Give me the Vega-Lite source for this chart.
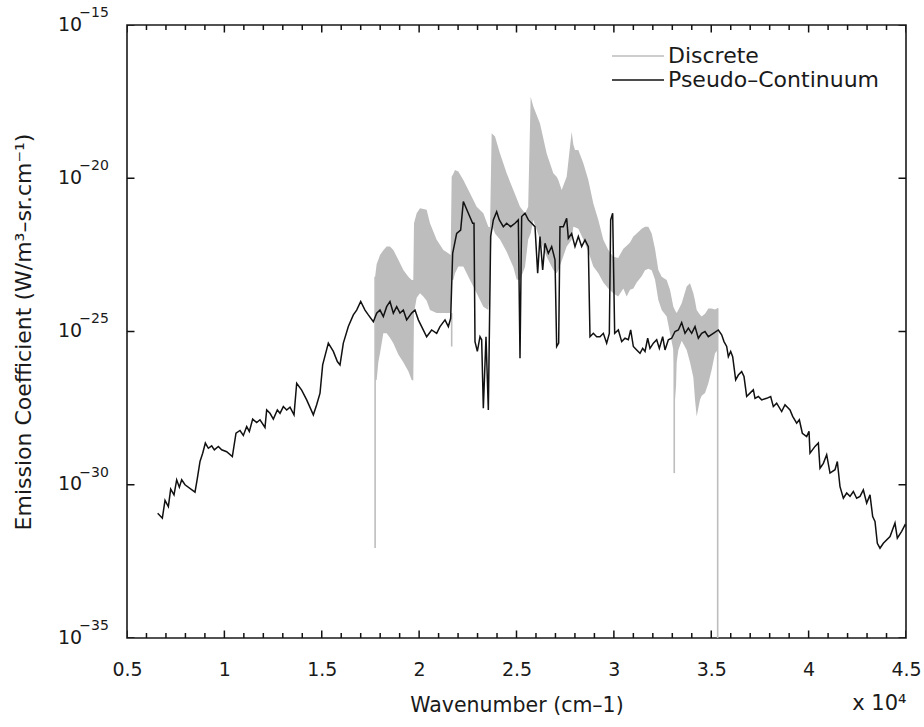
{
 "$schema": "https://vega.github.io/schema/vega-lite/v6.json",
 "width": 779,
 "height": 613,
 "autosize": {"type": "none"},
 "padding": {"left": 127, "top": 25, "right": 18, "bottom": 89},
 "background": "white",
 "config": {
  "view": {"stroke": "#1a1a1a", "strokeWidth": 1.6},
  "font": "DejaVu Sans",
  "axis": {"domain": false, "ticks": false, "grid": false, "labelFont": "DejaVu Sans", "titleFont": "DejaVu Sans", "labelColor": "#1a1a1a", "titleColor": "#1a1a1a", "labelFontSize": 19, "titleFontSize": 20.5, "titleFontWeight": "normal", "labelOverlap": false, "labelBound": false, "labelFlush": false}
 },
 "datasets": {
  "xticks": [
   {"t":5000,"kind":"major"},{"t":6000,"kind":"minor"},{"t":7000,"kind":"minor"},{"t":8000,"kind":"minor"},{"t":9000,"kind":"minor"},{"t":10000,"kind":"major"},{"t":11000,"kind":"minor"},{"t":12000,"kind":"minor"},{"t":13000,"kind":"minor"},{"t":14000,"kind":"minor"},{"t":15000,"kind":"major"},{"t":16000,"kind":"minor"},{"t":17000,"kind":"minor"},{"t":18000,"kind":"minor"},{"t":19000,"kind":"minor"},{"t":20000,"kind":"major"},{"t":21000,"kind":"minor"},{"t":22000,"kind":"minor"},{"t":23000,"kind":"minor"},{"t":24000,"kind":"minor"},{"t":25000,"kind":"major"},{"t":26000,"kind":"minor"},{"t":27000,"kind":"minor"},{"t":28000,"kind":"minor"},{"t":29000,"kind":"minor"},{"t":30000,"kind":"major"},{"t":31000,"kind":"minor"},{"t":32000,"kind":"minor"},{"t":33000,"kind":"minor"},{"t":34000,"kind":"minor"},{"t":35000,"kind":"major"},{"t":36000,"kind":"minor"},{"t":37000,"kind":"minor"},{"t":38000,"kind":"minor"},{"t":39000,"kind":"minor"},{"t":40000,"kind":"major"},{"t":41000,"kind":"minor"},{"t":42000,"kind":"minor"},{"t":43000,"kind":"minor"},{"t":44000,"kind":"minor"},{"t":45000,"kind":"major"}
  ],
  "yticks": [
   {"t":1e-35,"kind":"major"},{"t":1e-30,"kind":"major"},{"t":1e-25,"kind":"major"},{"t":1e-20,"kind":"major"},{"t":1e-15,"kind":"major"}
  ],
  "discrete": [
   {"w":17740,"hi":6.17e-24,"lo":2.63e-27},{"w":17820,"hi":1.58e-23,"lo":2.63e-27},{"w":17905,"hi":2.19e-23,"lo":1.0e-26},{"w":17991,"hi":3.16e-23,"lo":1.95e-26},{"w":18162,"hi":4.47e-23,"lo":8.71e-26},{"w":18333,"hi":5.89e-23,"lo":8.71e-26},{"w":18504,"hi":5.89e-23,"lo":6.31e-26},{"w":18676,"hi":4.57e-23,"lo":4.17e-26},{"w":18932,"hi":2.19e-23,"lo":1.78e-26},{"w":19189,"hi":1.02e-23,"lo":1.0e-26},{"w":19446,"hi":6.17e-24,"lo":5.01e-27},{"w":19617,"hi":4.79e-24,"lo":2.63e-27},{"w":19700,"hi":4.79e-24,"lo":2.51e-27},{"w":19737,"hi":3.39e-22,"lo":3.98e-25},{"w":19874,"hi":7.24e-22,"lo":1.26e-24},{"w":20045,"hi":1.05e-21,"lo":1.78e-24},{"w":20216,"hi":1.0e-21,"lo":1.38e-24},{"w":20387,"hi":9.33e-22,"lo":1.0e-24},{"w":20558,"hi":3.39e-22,"lo":5.01e-25},{"w":20901,"hi":9.77e-23,"lo":3.98e-25},{"w":21243,"hi":4.57e-23,"lo":3.98e-25},{"w":21500,"hi":3.55e-23,"lo":3.98e-25},{"w":21620,"hi":3.16e-23,"lo":3.98e-25},{"w":21671,"hi":1.12e-20,"lo":4.79e-24},{"w":21756,"hi":1.41e-20,"lo":4.79e-24},{"w":21842,"hi":1.86e-20,"lo":7.94e-24},{"w":22013,"hi":1.66e-20,"lo":1.32e-23},{"w":22270,"hi":8.71e-21,"lo":1.32e-23},{"w":22612,"hi":3.24e-21,"lo":4.79e-24},{"w":22955,"hi":1.17e-21,"lo":1.78e-24},{"w":23297,"hi":7.24e-22,"lo":6.46e-25},{"w":23554,"hi":2.63e-22,"lo":5.01e-25},{"w":23640,"hi":2.51e-22,"lo":1.78e-24},{"w":23725,"hi":2.95e-19,"lo":3.16e-22},{"w":23896,"hi":2.29e-19,"lo":1.58e-22},{"w":24153,"hi":6.46e-20,"lo":1.0e-22},{"w":24495,"hi":1.45e-20,"lo":3.98e-23},{"w":24837,"hi":4.17e-21,"lo":1.26e-23},{"w":25008,"hi":2.24e-21,"lo":5.01e-24},{"w":25180,"hi":1.17e-21,"lo":4.79e-24},{"w":25436,"hi":7.24e-22,"lo":1.26e-23},{"w":25600,"hi":1.17e-21,"lo":1.0e-22},{"w":25727,"hi":4.57e-18,"lo":1.58e-22},{"w":25864,"hi":2.19e-18,"lo":4.37e-22},{"w":26207,"hi":6.17e-19,"lo":9.77e-23},{"w":26549,"hi":6.46e-20,"lo":2.75e-23},{"w":26891,"hi":1.45e-20,"lo":1.02e-23},{"w":27062,"hi":1.12e-20,"lo":7.94e-24},{"w":27148,"hi":8.71e-21,"lo":1.0e-23},{"w":27319,"hi":4.17e-21,"lo":2.0e-23},{"w":27576,"hi":1.12e-20,"lo":5.89e-23},{"w":27832,"hi":3.31e-19,"lo":9.77e-23},{"w":27918,"hi":1.26e-19,"lo":2.63e-22},{"w":28004,"hi":8.32e-20,"lo":2.51e-22},{"w":28175,"hi":8.32e-20,"lo":2.24e-22},{"w":28432,"hi":3.09e-20,"lo":1.0e-22},{"w":28688,"hi":8.71e-21,"lo":3.98e-23},{"w":28945,"hi":1.51e-21,"lo":1.32e-23},{"w":29202,"hi":4.37e-22,"lo":7.94e-24},{"w":29459,"hi":9.77e-23,"lo":3.98e-24},{"w":29715,"hi":4.57e-23,"lo":2.51e-24},{"w":29972,"hi":2.75e-23,"lo":1.78e-24},{"w":30220,"hi":2.51e-23,"lo":1.38e-24},{"w":30486,"hi":5.01e-23,"lo":2.51e-24},{"w":30657,"hi":6.31e-23,"lo":1.38e-24},{"w":30829,"hi":7.94e-23,"lo":2.29e-24},{"w":31000,"hi":1.26e-22,"lo":2.51e-24},{"w":31171,"hi":1.58e-22,"lo":3.98e-24},{"w":31428,"hi":2.24e-22,"lo":6.31e-24},{"w":31599,"hi":2.63e-22,"lo":1.0e-23},{"w":31770,"hi":2.63e-22,"lo":1.12e-23},{"w":31941,"hi":1.58e-22,"lo":1.0e-23},{"w":32112,"hi":5.01e-23,"lo":5.01e-24},{"w":32283,"hi":1.02e-23,"lo":1.07e-24},{"w":32455,"hi":6.17e-24,"lo":5.01e-25},{"w":32711,"hi":4.79e-24,"lo":3.09e-25},{"w":32882,"hi":2.29e-24,"lo":8.71e-26},{"w":33054,"hi":6.46e-25,"lo":2.51e-26},{"w":33173,"hi":4.47e-25,"lo":5.89e-28},{"w":33225,"hi":3.98e-25,"lo":1.0e-26},{"w":33310,"hi":5.01e-25,"lo":2.51e-26},{"w":33482,"hi":8.32e-25,"lo":5.01e-26},{"w":33738,"hi":2.95e-24,"lo":2.51e-26},{"w":33909,"hi":3.72e-24,"lo":1.0e-26},{"w":34081,"hi":1.78e-24,"lo":3.16e-27},{"w":34166,"hi":1.0e-24,"lo":5.89e-28},{"w":34252,"hi":5.01e-25,"lo":1.70e-28},{"w":34423,"hi":3.55e-25,"lo":5.89e-28},{"w":34508,"hi":3.09e-25,"lo":7.94e-28},{"w":34680,"hi":3.80e-25,"lo":9.77e-28},{"w":34851,"hi":5.62e-25,"lo":2.04e-27},{"w":35022,"hi":5.62e-25,"lo":5.62e-27},{"w":35193,"hi":5.25e-25,"lo":1.95e-26},{"w":35330,"hi":5.75e-25,"lo":2.51e-26}
  ],
  "spikesLow": [
   {"w":17740,"hi":6.17e-24,"lo":8.71e-33},{"w":21671,"hi":3.98e-25,"lo":3.24e-26}
  ],
  "spikesHigh": [
   {"w":33100,"hi":4.5e-25,"lo":2.4e-30},{"w":35330,"hi":5.75e-25,"lo":1e-35}
  ],
  "continuum": [
   {"w":6575,"v":1.17e-31},{"w":6815,"v":8.13e-32},{"w":6952,"v":3.09e-31},{"w":7123,"v":1.95e-31},{"w":7243,"v":7.24e-31},{"w":7414,"v":4.68e-31},{"w":7551,"v":1.45e-30},{"w":7688,"v":8.32e-31},{"w":7808,"v":1.45e-30},{"w":7979,"v":1.0e-30},{"w":8492,"v":5.75e-31},{"w":8612,"v":1.62e-30},{"w":8749,"v":5.75e-30},{"w":8886,"v":1.07e-29},{"w":9023,"v":2.29e-29},{"w":9177,"v":1.55e-29},{"w":9348,"v":1.86e-29},{"w":9485,"v":1.38e-29},{"w":9690,"v":1.78e-29},{"w":9861,"v":1.38e-29},{"w":10118,"v":1.2e-29},{"w":10409,"v":8.32e-30},{"w":10597,"v":4.79e-29},{"w":10803,"v":5.89e-29},{"w":10974,"v":4.07e-29},{"w":11145,"v":7.94e-29},{"w":11282,"v":5.5e-29},{"w":11453,"v":1.38e-28},{"w":11659,"v":1.07e-28},{"w":11830,"v":1.32e-28},{"w":12086,"v":7.41e-29},{"w":12172,"v":2.75e-28},{"w":12343,"v":2.14e-28},{"w":12514,"v":1.38e-28},{"w":12720,"v":2.75e-28},{"w":12857,"v":2.14e-28},{"w":13028,"v":3.55e-28},{"w":13199,"v":2.75e-28},{"w":13370,"v":3.39e-28},{"w":13576,"v":1.91e-28},{"w":13713,"v":2.04e-27},{"w":13969,"v":1.23e-27},{"w":14226,"v":5.89e-28},{"w":14568,"v":1.91e-28},{"w":14739,"v":4.07e-28},{"w":14911,"v":9.77e-28},{"w":15047,"v":8.13e-27},{"w":15338,"v":4.17e-26},{"w":15595,"v":2.24e-26},{"w":15801,"v":1.05e-26},{"w":15937,"v":8.13e-27},
   {"w":16108,"v":4.17e-26},{"w":16365,"v":1.45e-25},{"w":16622,"v":3.47e-25},{"w":16793,"v":5.01e-25},{"w":17000,"v":9.55e-25},{"w":17221,"v":5.01e-25},{"w":17392,"v":3.47e-25},{"w":17649,"v":2.09e-25},{"w":17820,"v":3.98e-25},{"w":17991,"v":5.01e-25},{"w":18162,"v":3.09e-25},{"w":18333,"v":6.46e-25},{"w":18504,"v":9.55e-25},{"w":18676,"v":3.98e-25},{"w":18847,"v":6.46e-25},{"w":19018,"v":3.98e-25},{"w":19189,"v":5.01e-25},{"w":19360,"v":2.4e-25},{"w":19617,"v":3.98e-25},{"w":19788,"v":5.01e-25},{"w":19959,"v":2.4e-25},{"w":20130,"v":1.45e-25},{"w":20387,"v":6.76e-26},{"w":20644,"v":1.12e-25},{"w":20901,"v":8.71e-26},{"w":21072,"v":1.45e-25},{"w":21329,"v":2.4e-25},{"w":21500,"v":1.45e-25},{"w":21620,"v":2.69e-25},{"w":21722,"v":3.55e-23},{"w":21928,"v":1.58e-22},{"w":22133,"v":2.04e-22},{"w":22270,"v":1.74e-21},{"w":22527,"v":7.24e-22},{"w":22749,"v":3.39e-22},{"w":22818,"v":3.39e-22},{"w":22869,"v":4.68e-26},{"w":22989,"v":2.24e-26},{"w":23126,"v":6.76e-26},{"w":23211,"v":5.37e-26},{"w":23297,"v":3.16e-28},{"w":23434,"v":6.76e-26},{"w":23554,"v":2.75e-28},{"w":23673,"v":1.26e-22},{"w":23810,"v":4.37e-22},{"w":23981,"v":8.13e-22},{"w":24118,"v":4.37e-22},{"w":24324,"v":2.63e-22},{"w":24495,"v":3.39e-22},{"w":24700,"v":2.63e-22},{"w":24923,"v":3.39e-22},{"w":25094,"v":4.37e-22},{"w":25180,"v":1.35e-26},{"w":25265,"v":5.62e-22},{"w":25436,"v":7.24e-22},{"w":25608,"v":4.37e-22},{"w":25779,"v":3.39e-22},{"w":25950,"v":2.63e-22},{"w":26087,"v":7.94e-24},{"w":26207,"v":1.26e-22},{"w":26344,"v":1.02e-23},{"w":26463,"v":7.59e-23},{"w":26634,"v":3.55e-23},{"w":26806,"v":5.89e-23},{"w":26977,"v":2.19e-23},{"w":27062,"v":3.24e-26},{"w":27165,"v":4.17e-26},{"w":27233,"v":2.63e-22},{"w":27404,"v":2.63e-22},{"w":27576,"v":4.9e-22},{"w":27661,"v":1.1e-22},{"w":27832,"v":1.58e-22},{"w":28004,"v":5.89e-23},{"w":28175,"v":1.26e-22},{"w":28346,"v":5.89e-23},{"w":28517,"v":9.77e-23},{"w":28688,"v":5.89e-23},{"w":28774,"v":6.76e-26},{"w":28945,"v":8.71e-26},{"w":29116,"v":6.76e-26},{"w":29287,"v":6.76e-26},{"w":29459,"v":8.71e-26},{"w":29630,"v":4.17e-26},{"w":29767,"v":8.71e-26},{"w":29835,"v":4.37e-22},{"w":29938,"v":7.24e-22},{"w":30041,"v":8.71e-26},
   {"w":30229,"v":1.12e-25},{"w":30401,"v":4.68e-26},{"w":30572,"v":6.03e-26},{"w":30743,"v":5.37e-26},{"w":30863,"v":1.12e-25},{"w":31000,"v":3.24e-26},{"w":31171,"v":2.51e-26},{"w":31342,"v":1.95e-26},{"w":31479,"v":2.82e-26},{"w":31599,"v":2.24e-26},{"w":31736,"v":6.03e-26},{"w":31855,"v":2.82e-26},{"w":32027,"v":4.17e-26},{"w":32198,"v":5.37e-26},{"w":32335,"v":2.82e-26},{"w":32506,"v":6.76e-26},{"w":32626,"v":2.51e-26},{"w":32797,"v":5.37e-26},{"w":32968,"v":6.03e-26},{"w":33139,"v":1.0e-25},{"w":33310,"v":1.12e-25},{"w":33481,"v":1.95e-25},{"w":33653,"v":8.71e-26},{"w":33824,"v":1.29e-25},{"w":33995,"v":8.71e-26},{"w":34166,"v":1.45e-25},{"w":34337,"v":6.03e-26},{"w":34508,"v":8.71e-26},{"w":34679,"v":1.0e-25},{"w":34850,"v":6.76e-26},{"w":35107,"v":8.71e-26},{"w":35364,"v":1.12e-25},{"w":35535,"v":7.76e-26},{"w":35655,"v":4.68e-26},{"w":35792,"v":3.24e-26},{"w":35878,"v":1.51e-26},{"w":35998,"v":2.24e-26},{"w":36100,"v":1.51e-26},{"w":36254,"v":2.63e-27},{"w":36391,"v":3.8e-27},{"w":36562,"v":4.9e-27},{"w":36682,"v":3.39e-27},{"w":36819,"v":7.59e-28},{"w":36990,"v":9.77e-28},{"w":37161,"v":1.26e-27},{"w":37247,"v":6.61e-28},{"w":37418,"v":7.59e-28},{"w":37589,"v":5.89e-28},{"w":37846,"v":6.61e-28},{"w":38051,"v":7.59e-28},{"w":38188,"v":3.55e-28},{"w":38359,"v":4.57e-28},{"w":38616,"v":2.45e-28},{"w":38787,"v":4.07e-28},{"w":39044,"v":2.75e-28},{"w":39181,"v":1.7e-28},{"w":39386,"v":1.02e-28},{"w":39523,"v":1.32e-28},{"w":39677,"v":4.79e-29},{"w":39900,"v":3.72e-29},{"w":40020,"v":5.5e-29},{"w":40071,"v":1.07e-29},{"w":40328,"v":1.78e-29},{"w":40499,"v":2.29e-29},{"w":40584,"v":3.47e-30},{"w":40756,"v":5.01e-30},{"w":40927,"v":9.55e-30},{"w":41098,"v":2.4e-30},{"w":41355,"v":3.09e-30},{"w":41474,"v":5.75e-30},{"w":41611,"v":8.71e-31},{"w":41783,"v":3.63e-31},{"w":41954,"v":5.37e-31},{"w":42125,"v":4.17e-31},{"w":42296,"v":6.03e-31},{"w":42467,"v":3.63e-31},{"w":42638,"v":4.17e-31},{"w":42809,"v":6.76e-31},{"w":42981,"v":2.51e-31},{"w":43152,"v":4.68e-31},{"w":43289,"v":9.12e-32},{"w":43408,"v":6.31e-32},{"w":43528,"v":1.23e-32},{"w":43665,"v":8.51e-33},{"w":43836,"v":1.23e-32},{"w":44180,"v":2.04e-32},{"w":44435,"v":5.62e-32},{"w":44555,"v":1.82e-32},{"w":44777,"v":3.02e-32},{"w":44949,"v":4.9e-32},{"w":45000,"v":4.5e-32}
  ]
 },
 "resolve": {"axis": {"x": "independent", "y": "independent"}},
 "layer": [
  {
   "data": {"name": "discrete"},
   "mark": {"type": "area", "color": "#bdbdbd", "clip": true},
   "encoding": {
    "x": {"field": "w", "type": "quantitative", "scale": {"domain": [5000, 45000], "nice": false, "zero": false},
     "axis": {"orient": "bottom", "values": [5000,10000,15000,20000,25000,30000,35000,40000,45000],
      "labelExpr": "'' + (datum.value / 10000)", "labelPadding": 22,
      "title": "Wavenumber (cm–1)", "titleX": 389.5, "titleY": 73, "titleAlign": "center", "titleBaseline": "alphabetic"}},
    "y": {"field": "hi", "type": "quantitative", "scale": {"type": "log", "domain": [1e-35, 1e-15], "nice": false},
     "axis": {"orient": "left", "values": [1e-35, 1e-30, 1e-25, 1e-20, 1e-15],
      "labelExpr": "'10'", "labelPadding": 45.3, "labelOffset": -1,
      "title": "Emission Coefficient (W/m³–sr.cm⁻¹)", "titleFontSize": 22, "titleX": -104, "titleY": 306.5, "titleAngle": 270, "titleAlign": "center", "titleBaseline": "middle"}},
    "y2": {"field": "lo"}
   }
  },
  {
   "data": {"name": "spikesLow"},
   "mark": {"type": "rule", "color": "#bdbdbd", "strokeWidth": 1.6, "clip": true},
   "encoding": {
    "x": {"field": "w", "type": "quantitative", "scale": {"domain": [5000, 45000], "nice": false, "zero": false},
     "axis": {"orient": "bottom", "values": [45000], "labels": false, "title": "x 10⁴", "titleFontSize": 21, "titleX": 779, "titleY": 71, "titleAlign": "right", "titleBaseline": "alphabetic"}},
    "y": {"field": "hi", "type": "quantitative", "scale": {"type": "log", "domain": [1e-35, 1e-15], "nice": false},
     "axis": {"orient": "left", "values": [1e-35, 1e-30, 1e-25, 1e-20, 1e-15], "labelExpr": "'−' + round(-log(datum.value) / LN10)", "labelFontSize": 14, "labelPadding": 18.7, "labelOffset": -12.6, "title": null}},
    "y2": {"field": "lo"}
   }
  },
  {
   "data": {"name": "spikesHigh"},
   "mark": {"type": "rule", "color": "#bdbdbd", "strokeWidth": 1.6, "clip": true},
   "encoding": {
    "x": {"field": "w", "type": "quantitative", "scale": {"domain": [5000, 45000], "nice": false, "zero": false}, "axis": null},
    "y": {"field": "hi", "type": "quantitative", "scale": {"type": "log", "domain": [1e-35, 1e-15], "nice": false}, "axis": null},
    "y2": {"field": "lo"}
   }
  },
  {
   "data": {"name": "continuum"},
   "mark": {"type": "line", "strokeWidth": 1.5, "clip": true},
   "encoding": {
    "x": {"field": "w", "type": "quantitative", "scale": {"domain": [5000, 45000], "nice": false, "zero": false}, "axis": null},
    "y": {"field": "v", "type": "quantitative", "scale": {"type": "log", "domain": [1e-35, 1e-15], "nice": false}, "axis": null},
    "color": {"datum": "Pseudo–Continuum", "type": "nominal",
     "scale": {"domain": ["Discrete", "Pseudo–Continuum"], "range": ["#bdbdbd", "#111111"]},
     "legend": {"orient": "none", "legendX": 500, "legendY": 20, "title": null, "symbolType": "M-4,0H4", "symbolSize": 169, "symbolStrokeWidth": 1.6, "labelFontSize": 22, "labelFont": "DejaVu Sans", "labelColor": "#1a1a1a", "labelOffset": 19, "labelLimit": 0, "rowPadding": 2, "padding": 0}}
   }
  },
  {
   "data": {"name": "xticks"},
   "mark": {"type": "tick", "orient": "vertical", "thickness": 1.5, "color": "#111111", "opacity": 1, "clip": true},
   "encoding": {
    "x": {"field": "t", "type": "quantitative", "scale": {"domain": [5000, 45000], "nice": false, "zero": false}, "axis": null},
    "y": {"datum": 1e-35, "type": "quantitative", "scale": {"type": "log", "domain": [1e-35, 1e-15], "nice": false}, "axis": null},
    "size": {"field": "kind", "type": "ordinal", "scale": {"domain": ["major", "minor"], "range": [15, 10]}, "legend": null}
   }
  },
  {
   "data": {"name": "xticks"},
   "mark": {"type": "tick", "orient": "vertical", "thickness": 1.5, "color": "#111111", "opacity": 1, "clip": true},
   "encoding": {
    "x": {"field": "t", "type": "quantitative", "scale": {"domain": [5000, 45000], "nice": false, "zero": false}, "axis": null},
    "y": {"datum": 1e-15, "type": "quantitative", "scale": {"type": "log", "domain": [1e-35, 1e-15], "nice": false}, "axis": null},
    "size": {"field": "kind", "type": "ordinal", "scale": {"domain": ["major", "minor"], "range": [15, 10]}, "legend": null}
   }
  },
  {
   "data": {"name": "yticks"},
   "mark": {"type": "tick", "orient": "horizontal", "thickness": 1.5, "color": "#111111", "opacity": 1, "clip": true},
   "encoding": {
    "y": {"field": "t", "type": "quantitative", "scale": {"type": "log", "domain": [1e-35, 1e-15], "nice": false}, "axis": null},
    "x": {"datum": 5000, "type": "quantitative", "scale": {"domain": [5000, 45000], "nice": false, "zero": false}, "axis": null},
    "size": {"field": "kind", "type": "ordinal", "scale": {"domain": ["major", "minor"], "range": [15, 10]}, "legend": null}
   }
  },
  {
   "data": {"name": "yticks"},
   "mark": {"type": "tick", "orient": "horizontal", "thickness": 1.5, "color": "#111111", "opacity": 1, "clip": true},
   "encoding": {
    "y": {"field": "t", "type": "quantitative", "scale": {"type": "log", "domain": [1e-35, 1e-15], "nice": false}, "axis": null},
    "x": {"datum": 45000, "type": "quantitative", "scale": {"domain": [5000, 45000], "nice": false, "zero": false}, "axis": null},
    "size": {"field": "kind", "type": "ordinal", "scale": {"domain": ["major", "minor"], "range": [15, 10]}, "legend": null}
   }
  }
 ]
}
